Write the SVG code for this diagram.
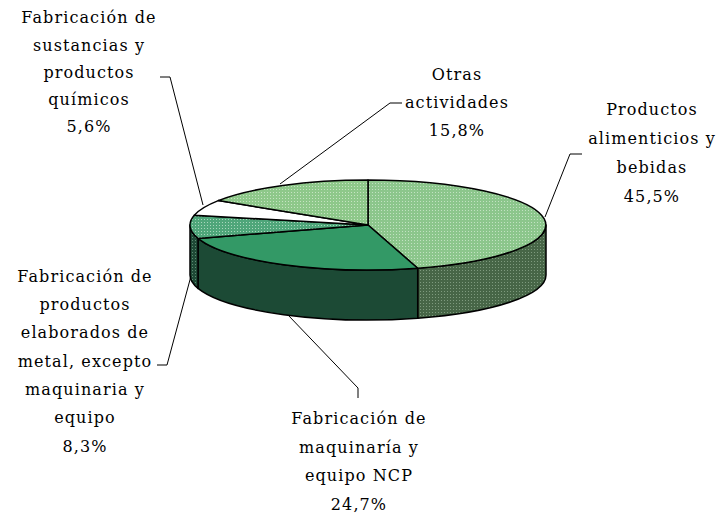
<svg xmlns="http://www.w3.org/2000/svg" width="720" height="517" viewBox="0 0 720 517">
<defs>
<pattern id="pAlim" width="3" height="3" patternUnits="userSpaceOnUse"><rect width="3" height="3" fill="#8CC68C"/><rect width="1" height="1" fill="#C2E2C2"/></pattern>
<pattern id="pAlimSide" width="3" height="3" patternUnits="userSpaceOnUse"><rect width="3" height="3" fill="#476647"/><rect width="1" height="1" fill="#7E9A7E"/></pattern>
<pattern id="pMetal" width="3" height="3" patternUnits="userSpaceOnUse"><rect width="3" height="3" fill="#4FA67A"/><rect width="1" height="1" fill="#A8D6BC"/></pattern>
<pattern id="pMetalSide" width="3" height="3" patternUnits="userSpaceOnUse"><rect width="3" height="3" fill="#1F4A36"/><rect width="1" height="1" fill="#5C8A72"/></pattern>
<pattern id="pOtras" width="3" height="3" patternUnits="userSpaceOnUse"><rect width="3" height="3" fill="#8EC88A"/><rect width="1" height="1" fill="#C6E4C2"/></pattern>
</defs>
<style>
.s{stroke:#000;stroke-width:1.5;stroke-linejoin:round}
.c{fill:none;stroke:#000;stroke-width:1}
text{font-family:"DejaVu Serif","Liberation Serif",serif;font-size:16px;letter-spacing:1.1px;fill:#000;text-anchor:middle}
</style>
<rect width="720" height="517" fill="#fff"/>
<g id="pie">
<path class="s" fill="url(#pAlimSide)" d="M546,225 A178,45 0 0 1 417.7,268.2 L417.7,318.2 A178,45 0 0 0 546,275 Z"/>
<path class="s" fill="#1C4A35" d="M417.7,268.2 A178,45 0 0 1 198,238.4 L198,288.4 A178,45 0 0 0 417.7,318.2 Z"/>
<path class="s" fill="url(#pMetalSide)" d="M198,238.4 A178,45 0 0 1 190,225 L190,275 A178,45 0 0 0 198,288.4 Z"/>
<path class="s" fill="url(#pAlim)" d="M368,225 L368,180 A178,45 0 0 1 417.7,268.2 Z"/>
<path class="s" fill="#339966" d="M368,225 L417.7,268.2 A178,45 0 0 1 198,238.4 Z"/>
<path class="s" fill="url(#pMetal)" d="M368,225 L198,238.4 A178,45 0 0 1 194.3,215.2 Z"/>
<path class="s" fill="#fff" d="M368,225 L194.3,215.2 A178,45 0 0 1 218.3,200.6 Z"/>
<path class="s" fill="url(#pOtras)" d="M368,225 L218.3,200.6 A178,45 0 0 1 368,180 Z"/>
</g>
<g id="connectors">
<polyline class="c" points="582,154 570,154 545,217"/>
<polyline class="c" points="402,103 390,103 280,184"/>
<polyline class="c" points="160,77 170,77 203,205"/>
<polyline class="c" points="157,365 167,365 191,276"/>
<polyline class="c" points="288,315 358,388 358,398"/>
</g>
<g id="label-alimenticios">
<text x="652" y="115">Productos</text>
<text x="652" y="144">alimenticios y</text>
<text x="652" y="173">bebidas</text>
<text x="652" y="202">45,5%</text>
</g>
<g id="label-otras">
<text x="457" y="80">Otras</text>
<text x="457" y="108">actividades</text>
<text x="457" y="136">15,8%</text>
</g>
<g id="label-quimicos">
<text x="89" y="23">Fabricación de</text>
<text x="89" y="51">sustancias y</text>
<text x="89" y="78">productos</text>
<text x="89" y="105">químicos</text>
<text x="89" y="132">5,6%</text>
</g>
<g id="label-metal">
<text x="85" y="282">Fabricación de</text>
<text x="85" y="310">productos</text>
<text x="85" y="338">elaborados de</text>
<text x="85" y="367">metal, excepto</text>
<text x="85" y="395">maquinaria y</text>
<text x="85" y="423">equipo</text>
<text x="85" y="452">8,3%</text>
</g>
<g id="label-maquinaria">
<text x="359" y="424">Fabricación de</text>
<text x="359" y="453">maquinaría y</text>
<text x="359" y="481">equipo NCP</text>
<text x="359" y="510">24,7%</text>
</g>
</svg>
